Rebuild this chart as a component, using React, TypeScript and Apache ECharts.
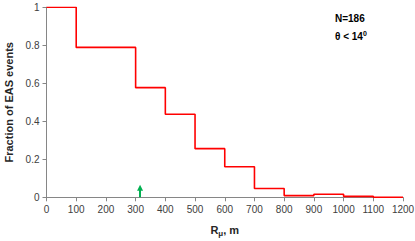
import React, { useEffect, useRef } from "react";
import * as echarts from "echarts";

const binEdges = [0, 100, 200, 300, 400, 500, 600, 700, 800, 900, 1000, 1100, 1200];
const fractions = [1.0, 0.789, 0.789, 0.577, 0.437, 0.256, 0.161, 0.046, 0.009, 0.016, 0.005, 0.0, 0.0];
const arrowX = 315;
const arrowTip = 0.05;
const annotations = ["N=186", "θ < 14"];

export default function App() {
  const ref = useRef<HTMLDivElement>(null);
  useEffect(() => {
    if (!ref.current) return;
    const chart = echarts.init(ref.current, undefined, { renderer: "svg" });
    const font = "Liberation Sans";
    chart.setOption({
      animation: false,
      textStyle: { fontFamily: font },
      grid: { left: 46.5, right: 12, top: 7.3, bottom: 43.7, outerBoundsMode: "none", containLabel: false },
      xAxis: {
        type: "value",
        min: 0,
        max: 1200,
        interval: 100,
        splitLine: { show: false },
        axisLine: { lineStyle: { color: "#868686", width: 1 } },
        axisTick: { show: true, length: 4, lineStyle: { color: "#868686" } },
        axisLabel: { color: "#404040", fontSize: 10, margin: 7, fontFamily: font, formatter: (v: number) => String(v) },
        name: "{r|R}{s|μ}{r|, m}",
        nameLocation: "middle",
        nameGap: 26,
        nameTextStyle: {
          rich: {
            r: { fontSize: 11, fontWeight: "bold", color: "#262626", fontFamily: font },
            s: { fontSize: 8, fontWeight: "bold", color: "#262626", fontFamily: font, verticalAlign: "bottom", padding: [6, 0, 0, 0] },
          },
        },
      },
      yAxis: {
        type: "value",
        min: 0,
        max: 1,
        interval: 0.2,
        splitLine: { show: false },
        axisLine: { show: true, lineStyle: { color: "#868686", width: 1 } },
        axisTick: { show: true, length: 4, lineStyle: { color: "#868686" } },
        axisLabel: {
          color: "#404040",
          fontSize: 10,
          margin: 7,
          fontFamily: font,
          formatter: (v: number) => String(Math.round(v * 10) / 10),
        },
        name: "Fraction of EAS events",
        nameLocation: "middle",
        nameGap: 27,
        nameTextStyle: { fontSize: 11, fontWeight: "bold", color: "#262626", fontFamily: font },
      },
      graphic: [
        {
          type: "text",
          left: 335,
          top: 13,
          style: { text: annotations[0], font: "bold 10px Liberation Sans", fill: "#000" },
        },
        {
          type: "text",
          left: 335,
          top: 30,
          style: {
            text: "{a|" + annotations[1] + "}{b|0}",
            rich: {
              a: { font: "bold 10px Liberation Sans", fill: "#000" },
              b: { font: "bold 7px Liberation Sans", fill: "#000", padding: [0, 0, 5, 0] },
            },
          },
        },
      ],
      series: [
        {
          type: "line",
          step: "end",
          data: binEdges.map((x, i) => [x, fractions[i]]),
          symbol: "none",
          lineStyle: { color: "#ff0000", width: 1.6 },
          z: 3,
          markLine: {
            silent: true,
            symbolSize: [6, 6],
            lineStyle: { color: "#00b050", width: 2, type: "solid" },
            label: { show: false },
            data: [
              [
                { coord: [arrowX, 0], symbol: "none" },
                { coord: [arrowX, arrowTip], symbol: "triangle" },
              ],
            ],
          },
        },
      ],
    });
    return () => chart.dispose();
  }, []);
  return <div ref={ref} style={{ width: 415, height: 241, position: "absolute", left: 0, top: 0 }} />;
}
